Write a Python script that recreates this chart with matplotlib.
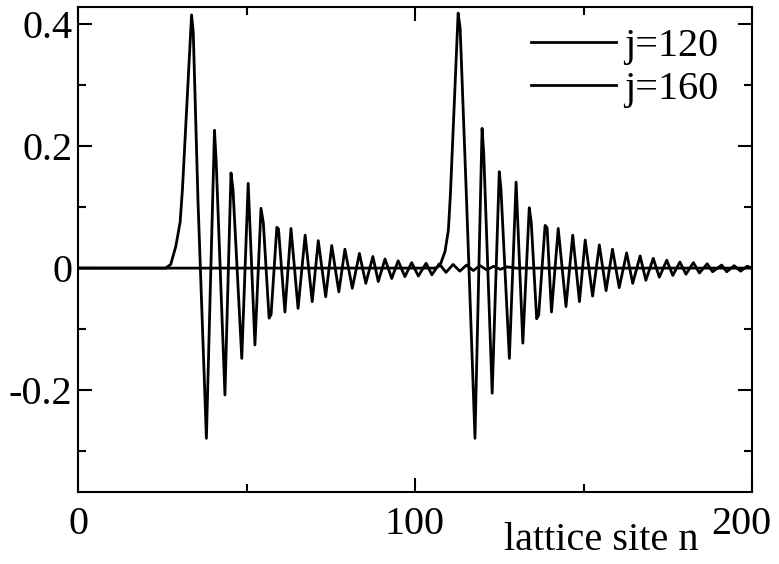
"""
Wave packet amplitude on the lattice for two values of j.
"""

import matplotlib
matplotlib.use("Agg")
import matplotlib.pyplot as plt
import matplotlib.transforms as mtransforms
from matplotlib.ticker import MultipleLocator

# ── Data (vertices) ───────────────────────────────────────────────
n_j120 = [0, 26.0, 27.5, 29.0, 30.3, 31.0, 33.7, 34.2, 35.6, 38.1,
          40.5, 41.0, 43.6, 45.4, 46.0, 48.6, 50.5, 52.5, 54.3, 55.0,
          56.7, 57.3, 59.0, 59.5, 61.4, 63.2, 65.3, 67.4, 69.5, 71.3,
          73.5, 75.3, 77.4, 79.2, 81.4, 83.5, 85.4, 87.5, 89.1, 91.1,
          93.1, 95.0, 97.0, 99.0, 101.0, 103.3, 105.0, 107.2, 109.2, 111.3,
          113.3, 115.3, 117.3, 119.3, 121.3, 123.3, 125.3, 127.3, 130.0, 200]
v_j120 = [0, 0, 0.006, 0.035, 0.075, 0.130, 0.415, 0.387, 0.111, -0.279,
          0.226, 0.175, -0.208, 0.156, 0.128, -0.148, 0.139, -0.126, 0.098, 0.074,
          -0.082, -0.076, 0.067, 0.064, -0.072, 0.065, -0.066, 0.054, -0.055, 0.045,
          -0.047, 0.037, -0.039, 0.031, -0.033, 0.024, -0.025, 0.019, -0.022, 0.015,
          -0.017, 0.012, -0.014, 0.009, -0.013, 0.008, -0.011, 0.007, -0.007, 0.006,
          -0.005, 0.005, -0.004, 0.004, -0.003, 0.003, -0.002, 0.002, 0, 0]

n_j160 = [0, 106.0, 107.4, 108.9, 109.9, 110.5, 112.8, 113.4, 115.3, 117.8,
          119.9, 120.4, 122.9, 125.0, 125.5, 128.0, 130.0, 132.0, 133.9, 134.5,
          136.1, 136.7, 138.6, 139.2, 140.5, 142.5, 144.8, 146.8, 148.8, 150.5,
          152.7, 154.7, 156.7, 158.6, 160.6, 162.8, 164.6, 166.8, 168.5, 170.7,
          172.5, 174.7, 176.5, 178.6, 180.4, 182.6, 184.4, 186.7, 188.3, 191.0,
          192.5, 194.7, 196.6, 198.6, 200]
v_j160 = [0, 0, 0.004, 0.027, 0.062, 0.120, 0.418, 0.393, 0.111, -0.279,
          0.229, 0.188, -0.205, 0.158, 0.130, -0.148, 0.141, -0.123, 0.099, 0.075,
          -0.083, -0.077, 0.070, 0.066, -0.072, 0.065, -0.063, 0.054, -0.055, 0.046,
          -0.046, 0.038, -0.037, 0.031, -0.032, 0.025, -0.025, 0.020, -0.020, 0.016,
          -0.015, 0.013, -0.012, 0.010, -0.010, 0.009, -0.008, 0.007, -0.006, 0.005,
          -0.006, 0.004, -0.005, 0.003, 0.0]

x_ticks = [0, 100, 200]
y_ticks = [-0.2, 0, 0.2, 0.4]
y_ticklabels = ["-0.2", "0", "0.2", "0.4"]

# ── Figure ────────────────────────────────────────────────────────
plt.rcParams["font.family"] = ["Liberation Serif", "DejaVu Serif"]
FS = 29

fig = plt.figure(figsize=(7.79, 5.64), dpi=100, facecolor="white")
ax = fig.add_axes([78 / 779, 1 - 492 / 564, (752 - 78) / 779, (492 - 7) / 564])

ax.plot(n_j120, v_j120, color="black", lw=2.0, label="j=120")
ax.plot(n_j160, v_j160, color="black", lw=2.0, label="j=160")

ax.set_xlim(0, 200)
ax.set_ylim(-0.367, 0.428)
ax.set_xticks(x_ticks)
ax.set_xticklabels([str(t) for t in x_ticks], fontsize=FS)
ax.set_yticks(y_ticks)
ax.set_yticklabels(y_ticklabels, fontsize=FS)
ax.xaxis.set_minor_locator(MultipleLocator(50))
ax.yaxis.set_minor_locator(MultipleLocator(0.1))
ax.tick_params(which="both", direction="in", top=True, right=True, width=1.5)
ax.tick_params(which="major", length=10)
ax.tick_params(which="minor", length=6)
ax.tick_params(axis="x", pad=10)
ax.tick_params(axis="y", pad=4)
for spine in ax.spines.values():
    spine.set_linewidth(1.5)

# last x label sits a bit inside the frame, as in the reference
last = ax.get_xticklabels()[-1]
last.set_transform(last.get_transform() +
                   mtransforms.ScaledTranslation(-8 / 72, 0, fig.dpi_scale_trans))

fig.text(601 / 779, 1 - 540 / 564, "lattice site n", fontsize=FS,
         ha="center", va="center")

ax.legend(loc="upper right", bbox_to_anchor=(718 / 779, 1 - 28 / 564),
          bbox_transform=fig.transFigure, frameon=False, fontsize=FS,
          handlelength=2.1, handletextpad=0.2, labelspacing=0.15,
          borderpad=0, borderaxespad=0)

fig.savefig("out.png", dpi=100, facecolor="white")
